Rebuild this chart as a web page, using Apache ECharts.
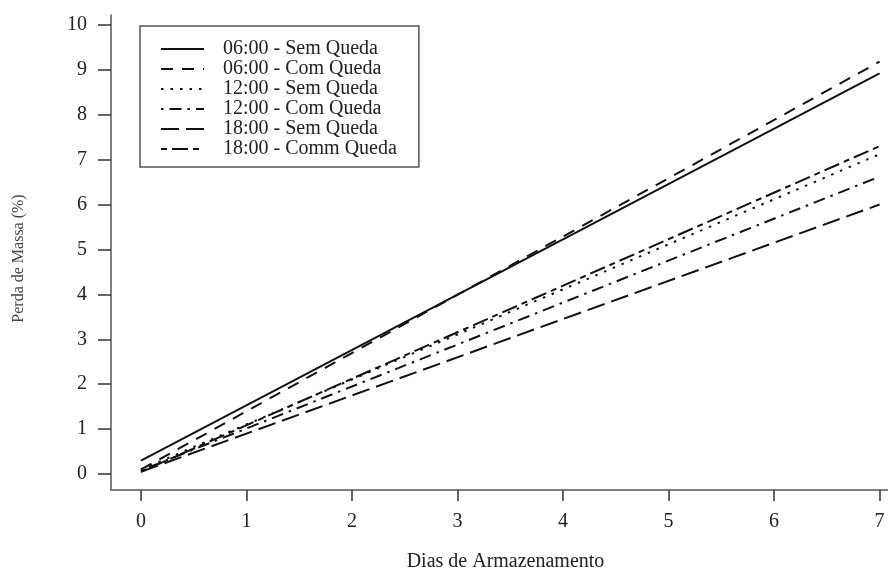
<!DOCTYPE html>
<html>
<head>
<meta charset="utf-8">
<script src="https://cdn.jsdelivr.net/npm/echarts@6/dist/echarts.min.js"></script>
<style>
html, body { margin: 0; padding: 0; background: #fff; }
#chartmain { width: 888px; height: 570px; }
</style>
</head>
<body>
<div id="chartmain"></div>
<script>
// dias de armazenamento (retas ajustadas, so os extremos)
var dias = [0, 7];
var nomes = ['06:00 - Sem Queda', '06:00 - Com Queda', '12:00 - Sem Queda',
	'12:00 - Com Queda', '18:00 - Sem Queda', '18:00 - Comm Queda'];
var sem06 = [0.30, 8.92];
var com06 = [0.10, 9.18];
var sem12 = [0.10, 7.12];
var com12 = [0.08, 6.62];
var sem18 = [0.05, 6.00];
var com18 = [0.05, 7.30];
var xTicks = [0, 1, 2, 3, 4, 5, 6, 7];
var yTicks = [0, 1, 2, 3, 4, 5, 6, 7, 8, 9, 10];

var serif = '"Liberation Serif", "Times New Roman", serif';
var valores = [sem06, com06, sem12, com12, sem18, com18];
// tipos de traco (lty do R)
var tracos = ['solid', [12, 9], [2.5, 7], [2.5, 6, 12, 6], [18, 7], [6, 5, 16, 5]];

var arrSeries = [];
for (var i = 0; i < nomes.length; i++) {
	var pts = [];
	for (var j = 0; j < dias.length; j++) {
		pts.push([dias[j], valores[i][j]]);
	}
	arrSeries.push({
		name : nomes[i],
		type : 'line',
		symbol : 'none',
		silent : true,
		itemStyle : { color : '#111' },
		lineStyle : {
			color : '#111',
			width : 2,
			type : tracos[i]
		},
		data : pts
	});
}

var option = {
	animation : false,
	backgroundColor : '#fff',
	grid : {
		left : 111,
		right : 0,
		top : 15,
		bottom : 80,
		outerBoundsMode : 'none'
	},
	legend : {
		data : nomes,
		orient : 'vertical',
		left : 140,
		top : 26,
		padding : [13, 22, 8, 20],
		itemWidth : 43,
		itemHeight : 14,
		itemGap : 0,
		backgroundColor : '#fff',
		borderColor : '#555',
		borderWidth : 1.5,
		itemStyle : { opacity : 0 },
		textStyle : {
			fontFamily : serif,
			fontSize : 20,
			lineHeight : 20,
			color : '#222',
			padding : [0, 0, 0, 14]
		}
	},
	xAxis : {
		type : 'value',
		min : -0.284,
		max : 7.08,
		name : 'Dias de Armazenamento',
		nameLocation : 'middle',
		nameGap : 62,
		nameTextStyle : {
			fontFamily : serif,
			fontSize : 20,
			color : '#222',
			padding : [0, 0, 0, 12]
		},
		axisLine : {
			show : true,
			onZero : false,
			lineStyle : { color : '#555', width : 1.5 }
		},
		axisTick : {
			show : true,
			length : 11,
			customValues : xTicks,
			lineStyle : { color : '#333', width : 1.5 }
		},
		axisLabel : {
			customValues : xTicks,
			margin : 22,
			fontFamily : serif,
			fontSize : 20,
			color : '#222'
		},
		splitLine : { show : false }
	},
	yAxis : {
		type : 'value',
		min : -0.356,
		max : 10.22,
		name : 'Perda de Massa (%)',
		nameLocation : 'middle',
		nameGap : 84,
		nameRotate : 90,
		nameTextStyle : {
			fontFamily : serif,
			fontSize : 16,
			color : '#444',
			padding : [0, 12, 0, 0]
		},
		axisLine : {
			show : true,
			onZero : false,
			lineStyle : { color : '#555', width : 1.5 }
		},
		axisTick : {
			show : true,
			length : 13,
			customValues : yTicks,
			lineStyle : { color : '#333', width : 1.5 }
		},
		axisLabel : {
			customValues : yTicks,
			margin : 24,
			fontFamily : serif,
			fontSize : 20,
			color : '#222'
		},
		splitLine : { show : false }
	},
	series : arrSeries
};

var myChart = echarts.init(document.getElementById('chartmain'));
myChart.setOption(option);
</script>
</body>
</html>
